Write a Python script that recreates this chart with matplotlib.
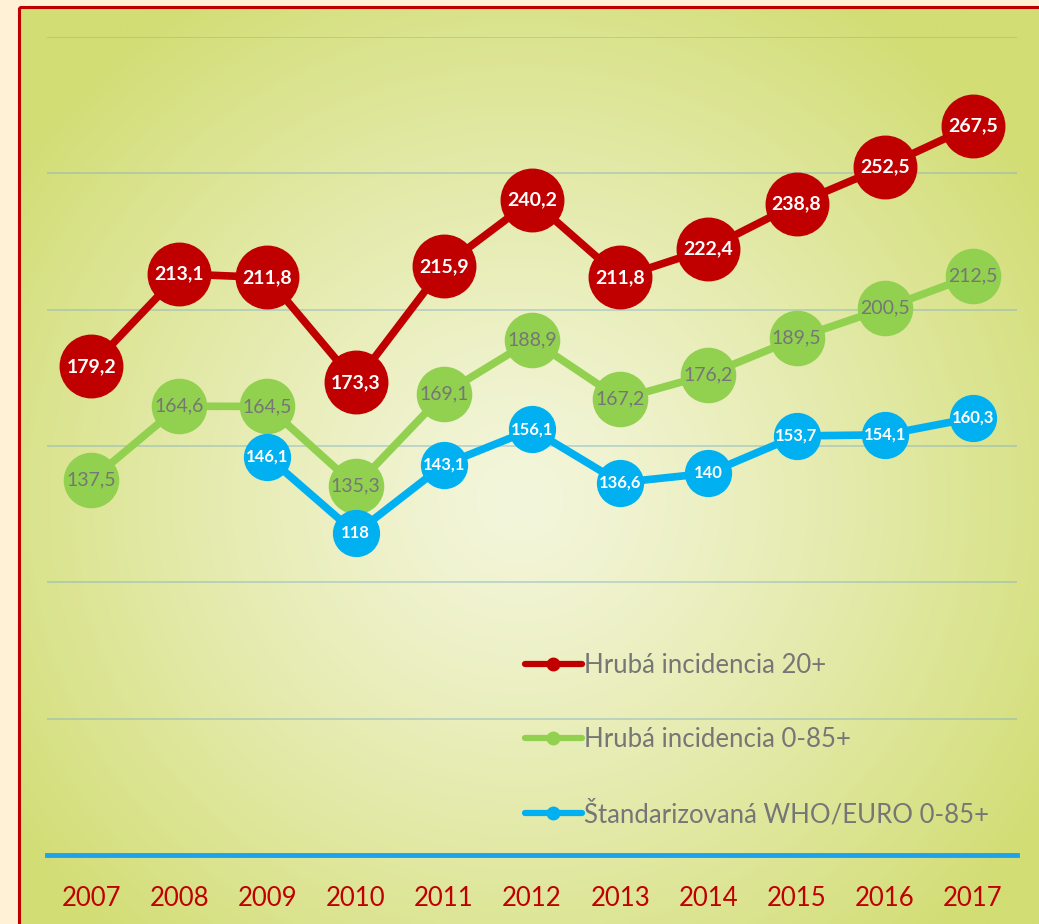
import numpy as np
import matplotlib
matplotlib.use("Agg")
import matplotlib.pyplot as plt
from matplotlib.patches import Rectangle
from matplotlib.lines import Line2D

years = ["2007", "2008", "2009", "2010", "2011", "2012", "2013", "2014", "2015", "2016", "2017"]
hruba_20 = [179.2, 213.1, 211.8, 173.3, 215.9, 240.2, 211.8, 222.4, 238.8, 252.5, 267.5]
hruba_085 = [137.5, 164.6, 164.5, 135.3, 169.1, 188.9, 167.2, 176.2, 189.5, 200.5, 212.5]
std_who = [None, None, 146.1, 118, 143.1, 156.1, 136.6, 140, 153.7, 154.1, 160.3]
labels = ["Hrubá incidencia 20+", "Hrubá incidencia 0-85+", "Štandarizovaná WHO/EURO 0-85+"]

plt.rcParams['font.family'] = ['Lato', 'DejaVu Sans']

W, H = 1039, 924
fig = plt.figure(figsize=(W / 100, H / 100), dpi=100)
fig.patch.set_facecolor('#FFF1D6')

# background with radial gradient
bg = fig.add_axes([0, 0, 1, 1], zorder=0)
bg.set_xlim(0, W)
bg.set_ylim(H, 0)
bg.axis('off')
x0, x1, y0, y1 = 19, W, 7, H
xx, yy = np.meshgrid(np.linspace(x0, x1, 400), np.linspace(y0, y1, 400))
cx, cy = 520, 500
r = np.sqrt(((xx - cx) / 620) ** 2 + ((yy - cy) / 600) ** 2)
t = np.clip(r, 0, 1) ** 1.2
c_in = np.array([0xF4, 0xF6, 0xDC]) / 255
c_out = np.array([0xD2, 0xDD, 0x74]) / 255
img = c_in[None, None, :] * (1 - t[..., None]) + c_out[None, None, :] * t[..., None]
bg.imshow(img, extent=[x0, x1, y1, y0], aspect='auto', interpolation='bilinear')
bg.add_patch(Rectangle((x0, y0), x1 - x0 + 5, y1 - y0 + 5, fill=False, edgecolor='#C00000', lw=2.2))

ax = fig.add_axes([47 / W, (H - 855) / H, (1017 - 47) / W, (855 - 37) / H], zorder=1)
ax.patch.set_alpha(0)
x = np.arange(len(years))
ax.set_xlim(-0.5, len(years) - 0.5)
ax.set_ylim(0, 300)
for s in ['top', 'right', 'left']:
    ax.spines[s].set_visible(False)
ax.spines['bottom'].set_color('#1CA3EC')
ax.spines['bottom'].set_linewidth(3.5)
ax.set_yticks([50, 100, 150, 200, 250, 300])
ax.yaxis.grid(True, color='#7FAFC0', alpha=0.5, lw=1.2)
ax.tick_params(axis='y', left=False, labelleft=False)
ax.set_xticks(x)
ax.set_xticklabels(years, color='#C00000', fontsize=18.5)
ax.tick_params(axis='x', length=0, pad=22)
ax.set_axisbelow(True)

red, green, blue = '#C00000', '#92D050', '#00B0F0'

def fmt(v):
    s = ('%.1f' % v).replace('.', ',')
    if s.endswith(',0'):
        s = s[:-2]
    return s

ax.plot(x, hruba_20, color=red, lw=5.5, marker='o', ms=45, mfc=red, mec=red, zorder=3, clip_on=False)
ax.plot(x, hruba_085, color=green, lw=5.5, marker='o', ms=39, mfc=green, mec=green, zorder=3, clip_on=False)
xb = [xi for xi, v in zip(x, std_who) if v is not None]
vb = [v for v in std_who if v is not None]
ax.plot(xb, vb, color=blue, lw=5.5, marker='o', ms=33, mfc=blue, mec=blue, zorder=4, clip_on=False)

for xi, v in zip(x, hruba_20):
    ax.text(xi, v, fmt(v), ha='center', va='center', color='white', fontsize=14, fontweight='bold', zorder=5)
for xi, v in zip(x, hruba_085):
    ax.text(xi, v, fmt(v), ha='center', va='center', color='#767676', fontsize=14, zorder=5)
for xi, v in zip(xb, vb):
    ax.text(xi, v, fmt(v), ha='center', va='center', color='white', fontsize=12, fontweight='bold', zorder=5)

handles = [Line2D([], [], color=c, lw=4.5, marker='o', ms=9, solid_capstyle='round') for c in (red, green, blue)]
leg = ax.legend(handles, labels, loc='upper left', bbox_to_anchor=((525 - 47) / (1017 - 47), (855 - 653) / (855 - 37)),
                frameon=False, fontsize=18.5, labelcolor='#767676', handlelength=2.2, handletextpad=0.1,
                labelspacing=1.9, borderaxespad=0, borderpad=0)

fig.savefig('out.png', dpi=100, facecolor=fig.get_facecolor())
